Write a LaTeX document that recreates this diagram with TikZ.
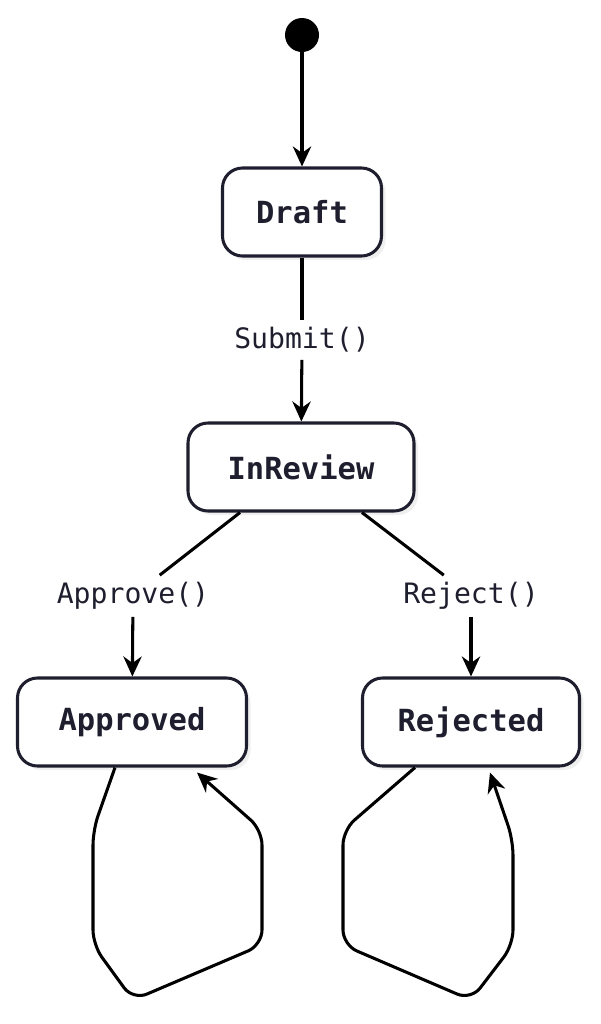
\documentclass[tikz,border=0pt]{standalone}
\usepackage{fontspec}
\setmainfont{DejaVu Sans Mono}
\usetikzlibrary{arrows.meta,shadows}
\definecolor{ink}{HTML}{1E1E2E}
\tikzset{
  state/.style={draw=ink, line width=2.6pt, rounded corners=0.6cm, fill=white,
    minimum height=2.64cm, font=\fontsize{26}{30}\selectfont\bfseries, text=ink,
    drop shadow={shadow xshift=0.12cm, shadow yshift=-0.12cm, fill=black!12}},
  trans/.style={font=\fontsize{24}{28}\selectfont, text=ink, inner sep=6pt},
  link/.style={line width=2.6pt, draw=black},
  arr/.style={link, -{Stealth[length=0.6cm, width=0.55cm]}},
  loop/.style={arr, rounded corners=0.45cm}
}
\begin{document}
\begin{tikzpicture}[x=0.03cm, y=-0.03cm]
    \useasboundingbox (0,0) rectangle (601,1024);

    % Start point
    \fill (302,35) circle (17) node (start) {};
    \coordinate (start) at (302,35);

    % States
    \node[state, minimum width=4.77cm] (draft) at (302,212) {Draft};
    \node[state, minimum width=6.78cm] (inreview) at (301,467) {InReview};
    \node[state, minimum width=6.87cm] (approved) at (132,722) {Approved};
    \node[state, minimum width=6.51cm] (rejected) at (471,722) {Rejected};

    % Transition labels
    \node[trans] (submit) at (302,340) {Submit()};
    \node[trans] (approve) at (133,596) {Approve()};
    \node[trans] (reject) at (471,596) {Reject()};

    % Transitions
    \draw[arr] (start) -- (draft);
    \draw[link] (draft) -- (submit);
    \draw[arr] (submit) -- (inreview);
    \draw[link] ([xshift=-61*0.03cm]inreview.south) -- (approve);
    \draw[arr] (approve) -- (approved);
    \draw[link] ([xshift=61*0.03cm]inreview.south) -- (reject);
    \draw[arr] (reject) -- (rejected);

    % Self loops
    \draw[loop] ([xshift=-17*0.03cm]approved.south) -- (93,830) -- (93,945)
      -- (133,1000) -- (262,945) -- (262,830) -- ([xshift=65*0.03cm, yshift=-5*0.03cm]approved.south);
    \draw[loop] ([xshift=-56*0.03cm]rejected.south) -- (343,830) -- (343,945)
      -- (471,1000) -- (513,945) -- (513,840) -- ([xshift=19*0.03cm, yshift=-5*0.03cm]rejected.south);
\end{tikzpicture}
\end{document}
